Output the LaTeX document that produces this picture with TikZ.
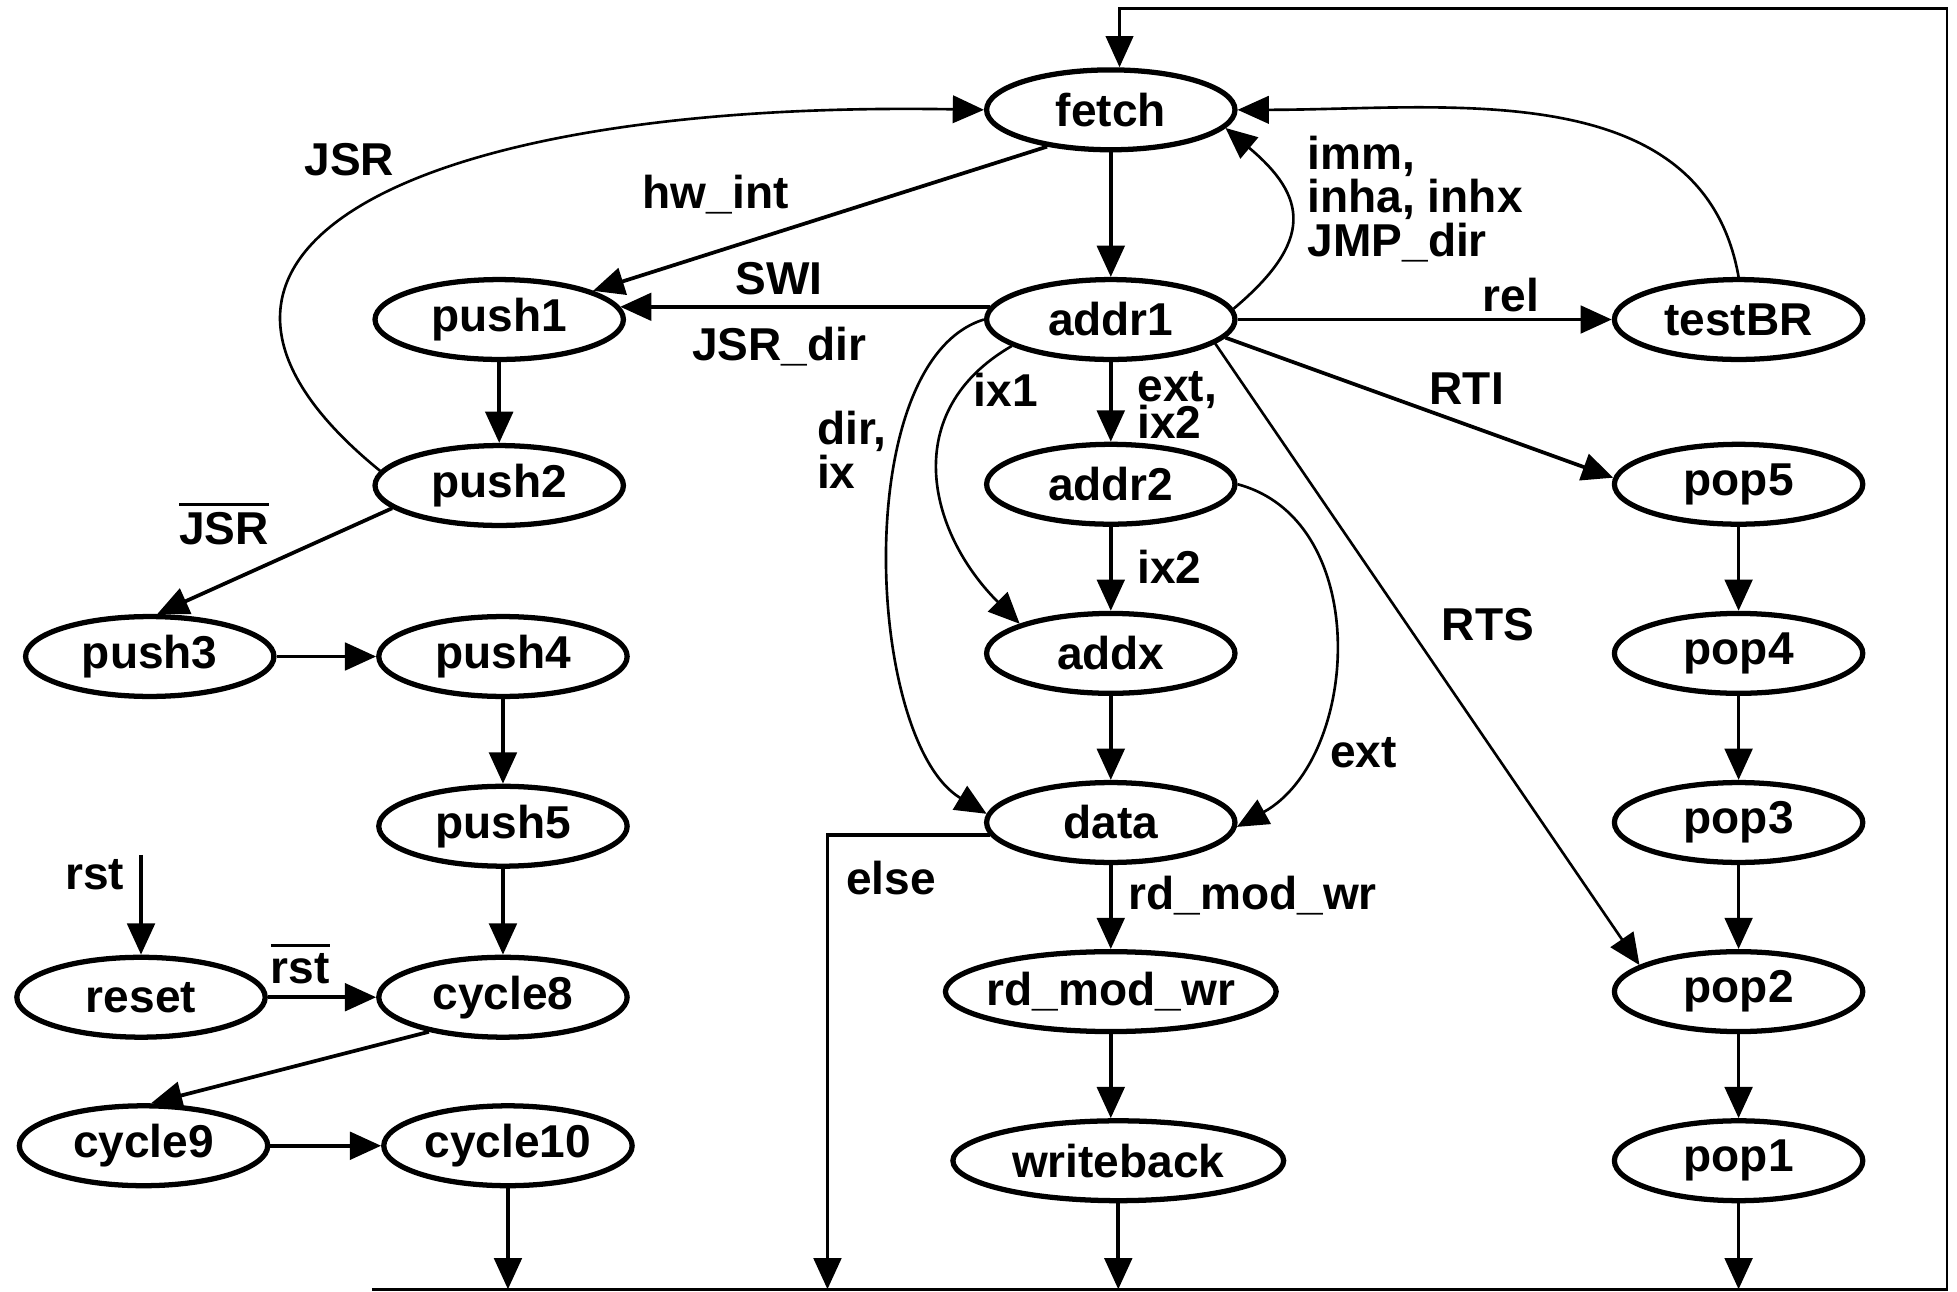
\documentclass[tikz,border=0pt]{standalone}
\usepackage{fontspec}
\setmainfont{Liberation Sans}
\usetikzlibrary{arrows.meta,positioning,shapes.geometric}
\newcommand\nbar[1]{\vbox{\hrule height 1.3pt\kern 3pt\hbox{#1}}}

\begin{document}
\begin{tikzpicture}[
    font=\fontsize{21}{20}\selectfont\bfseries,
    node distance=2.71cm, on grid,
    state/.style={ellipse, draw, line width=2.4pt, minimum width=3.98cm, minimum height=1.28cm, inner sep=1pt},
    arrow/.style={-{Triangle[length=0.5cm, width=0.44cm]}, line width=1.7pt},
    thinarrow/.style={arrow, line width=1.2pt},
    lbl/.style={inner sep=1pt, align=left}
  ]
  \useasboundingbox (-17.8,1.76) rectangle (13.56,-18.94);

  % middle column
  \node[state] (fetch) {fetch};
  \node[state, below=3.36cm of fetch] (addr1) {addr1};
  \node[state, below=2.64cm of addr1] (addr2) {addr2};
  \node[state, below=of addr2] (addx) {addx};
  \node[state, below=of addx] (data) {data};
  \node[state, below=of data, minimum width=5.3cm, inner xsep=-3.4pt] (rmw) {rd\_mod\_wr};
  \node[state, below=of rmw, xshift=0.12cm, minimum width=5.3cm] (wback) {writeback};

  % right column
  \node[state, right=10.06cm of addr1] (testBR) {testBR};
  \node[state, below=2.64cm of testBR] (pop5) {pop5};
  \node[state, below=of pop5] (pop4) {pop4};
  \node[state, below=of pop4] (pop3) {pop3};
  \node[state, below=of pop3] (pop2) {pop2};
  \node[state, below=of pop2] (pop1) {pop1};

  % left columns
  \node[state, left=9.8cm of addr1] (push1) {push1};
  \node[state, below=2.66cm of push1] (push2) {push2};
  \node[state, below=2.74cm of push2, xshift=0.06cm] (push4) {push4};
  \node[state, left=5.66cm of push4] (push3) {push3};
  \node[state, below=2.72cm of push4] (push5) {push5};
  \node[state, below=2.74cm of push5] (cycle8) {cycle8};
  \node[state, left=5.8cm of cycle8] (reset) {reset};
  \node[state, below=2.38cm of cycle8, xshift=0.08cm] (cycle10) {cycle10};
  \node[state, left=5.84cm of cycle10] (cycle9) {cycle9};

  \coordinate[above=2.28cm of reset] (rstin);
  \coordinate (bus) at (0,-18.9);
  \coordinate (busL) at (-11.84,-18.9);
  \coordinate (busR) at (13.4,-18.9);
  \coordinate (topR) at (13.4,1.62);
  \coordinate (topL) at (0.14,1.62);
  \coordinate (elsefoot) at (-4.54,-18.9);

  % fetch / decode
  \draw[arrow] (fetch) -- (addr1);
  \draw[arrow] (fetch.210) -- node[lbl, pos=0.73, shift={(0,0.91)}] {hw\_int} (push1.17);
  \draw[arrow] (addr1.174) -- node[lbl, pos=0.57, shift={(0,0.45)}] {SWI}
    node[lbl, pos=0.57, shift={(0,-0.64)}] {JSR\_dir} (push1.6);
  \draw[thinarrow] (addr1.5) to[out=40, in=-40, looseness=1.5]
    node[lbl, pos=0.5, anchor=west, shift={(0.22,0.31)}] {imm,\\inha, inhx\\JMP\_dir} (fetch.-9);
  \draw[thinarrow] (testBR.north) to[out=100, in=0] (fetch.east);
  \draw[arrow] (addr1) -- node[lbl, pos=0.73, shift={(0,0.4)}] {rel} (testBR);
  \draw[arrow] (addr1.-9) -- node[lbl, pos=0.622, shift={(0,0.58)}] {RTI} (pop5.177);
  \draw[thinarrow] (addr1.-13) -- node[lbl, pos=0.453, shift={(1.29,0)}] {RTS} (pop2.165);

  % addressing
  \draw[arrow] (addr1) -- node[lbl, pos=0.535, anchor=west, xshift=0.364cm] {ext,\\[-3pt]ix2} (addr2);
  \draw[thinarrow] (addr1.195) to[out=210, in=135, looseness=1.2]
    node[lbl, pos=0.15, anchor=west, yshift=-0.18cm] {ix1} (addx.162);
  \draw[thinarrow] (addr1.180) to[out=197, in=149, looseness=0.73]
    node[lbl, pos=0.25, anchor=east, shift={(-0.33,-0.73)}] {dir,\\ix} (data.176);
  \draw[thinarrow] (addr2.east) to[out=-15, in=29, looseness=1.05]
    node[lbl, pos=0.75, anchor=west, shift={(0.3,-0.05)}] {ext} (data.-2);
  \draw[arrow] (addr2) -- node[lbl, pos=0.476, anchor=west, xshift=0.36cm] {ix2} (addx);
  \draw[arrow] (addx) -- (data);
  \draw[arrow] (data) -- node[lbl, pos=0.36, anchor=west, xshift=0.22cm] {rd\_mod\_wr} (rmw);
  \draw[arrow] (rmw) -- (rmw |- wback.north);
  \draw[arrow] (wback) -- (wback |- bus);
  \draw[arrow] (data.186) -| node[lbl, pos=0.547, shift={(1.02,0)}] {else} (elsefoot);

  % return from interrupt / subroutine
  \draw[arrow] (pop5) -- (pop4);
  \draw[arrow] (pop4) -- (pop3);
  \draw[arrow] (pop3) -- (pop2);
  \draw[arrow] (pop2) -- (pop1);
  \draw[arrow] (pop1) -- (pop1 |- bus);

  % push sequence
  \draw[arrow] (push1) -- (push2);
  \draw[thinarrow] (push2.173) .. controls +(-4.3,3.5) and +(-9.2,0.16) .. (fetch.west)
    node[lbl, pos=0.45, shift={(0.22,1.04)}] {JSR};
  \draw[arrow] (push2.192) -- node[lbl, pos=0.716, shift={(0,0.96)}] {\nbar{JSR}} (push3.80);
  \draw[arrow] (push3) -- (push4);
  \draw[arrow] (push4) -- (push5);
  \draw[arrow] (push5) -- (cycle8);

  % reset sequence
  \draw[arrow] (rstin) -- node[lbl, pos=0.2, shift={(-0.74,0)}] {rst} (reset);
  \draw[arrow] (reset) -- node[lbl, pos=0.3, shift={(0,0.53)}] {\nbar{rst}} (cycle8);
  \draw[arrow] (cycle8.205) -- (cycle9.80);
  \draw[arrow] (cycle9) -- (cycle10);
  \draw[arrow] (cycle10) -- (cycle10 |- bus);

  % back to fetch
  \draw[arrow, line width=1.3pt] (busL) -- (busR) -- (topR) -- (topL) -- (topL |- fetch.north);
\end{tikzpicture}
\end{document}
